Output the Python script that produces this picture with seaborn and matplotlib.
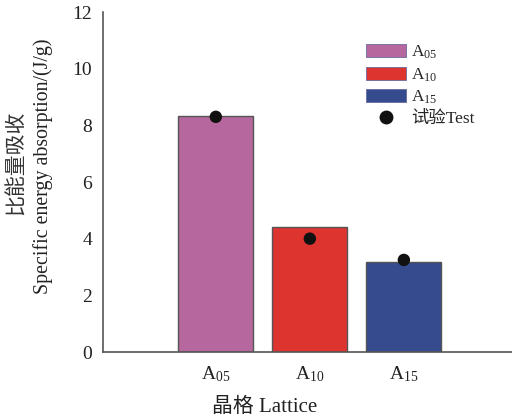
import matplotlib
matplotlib.use("Agg")
import matplotlib.pyplot as plt
import seaborn as sns
from matplotlib.patches import Patch
from matplotlib.lines import Line2D

# Lattice types, simulated specific energy absorption and test values (J/g)
lattice = ["A05", "A10", "A15"]
lattice_labels = ["A$_{05}$", "A$_{10}$", "A$_{15}$"]
sea_sim = [8.33, 4.40, 3.17]
sea_test = [8.30, 4.00, 3.25]
colors = ["#B5679E", "#DD3430", "#364A8E"]
yticks = [0, 2, 4, 6, 8, 10, 12]

sns.set_theme(style="white")
plt.rcParams["font.family"] = ["Liberation Serif", "Noto Sans CJK SC"]
plt.rcParams["mathtext.fontset"] = "custom"
plt.rcParams["mathtext.rm"] = "Liberation Serif"
plt.rcParams["mathtext.it"] = "Liberation Serif:italic"

fig = plt.figure(figsize=(5.12, 4.19), dpi=100)
ax = fig.add_axes([103 / 512, 1 - 352 / 419, 1 - 103 / 512, 340 / 419])

sns.barplot(x=lattice, y=sea_sim, hue=lattice, palette=colors, width=0.8,
            edgecolor="#555555", linewidth=1.0, saturation=1, legend=False, ax=ax)
sns.scatterplot(x=lattice, y=sea_test, color="#111111", s=80, edgecolor="none",
                zorder=5, ax=ax)

ax.set_xlim(-1.2, 3.15)
ax.set_ylim(0, 12)
ax.set_yticks(yticks)
ax.set_xticks(range(len(lattice)))
ax.set_xticklabels(lattice_labels)

for side in ["top", "right"]:
    ax.spines[side].set_visible(False)
for side in ["left", "bottom"]:
    ax.spines[side].set_color("#555555")
    ax.spines[side].set_linewidth(1.2)

ax.tick_params(axis="y", direction="in", length=4, width=1, color="#555555",
               labelsize=14, labelcolor="#222222", pad=8)
ax.tick_params(axis="x", direction="in", length=3, width=1, color="#555555",
               labelsize=14, labelcolor="#222222", pad=9)

# Two-line y label: English line as the axis label, Chinese line beside it
ax.set_ylabel("Specific energy absorption/(J/g)", fontsize=14.3, color="#222222")
ax.yaxis.set_label_coords(-0.123, 0.545)
ax.text(-0.21, 0.555, "比能量吸收", transform=ax.transAxes, rotation=90,
        fontsize=15, fontweight="light", color="#333333", ha="center", va="center")

ax.set_xlabel("晶格 Lattice", fontsize=15, color="#222222")
ax.xaxis.set_label_coords(0.396, -0.135)

handles = [Patch(facecolor=c, edgecolor="#6a6aa0", linewidth=0.6) for c in colors]
handles.append(Line2D([], [], marker="o", color="none", markerfacecolor="#111111",
                      markeredgecolor="none", markersize=10))
labels = lattice_labels + ["试验Test"]
ax.legend(handles, labels, loc="upper left", bbox_to_anchor=(352 / 512, 1 - 30 / 419),
          bbox_transform=fig.transFigure, frameon=False, fontsize=12.5,
          handlelength=2.3, handleheight=0.78, labelspacing=0.28, handletextpad=0.3,
          borderpad=0.3)

fig.savefig("out.png", dpi=100)
